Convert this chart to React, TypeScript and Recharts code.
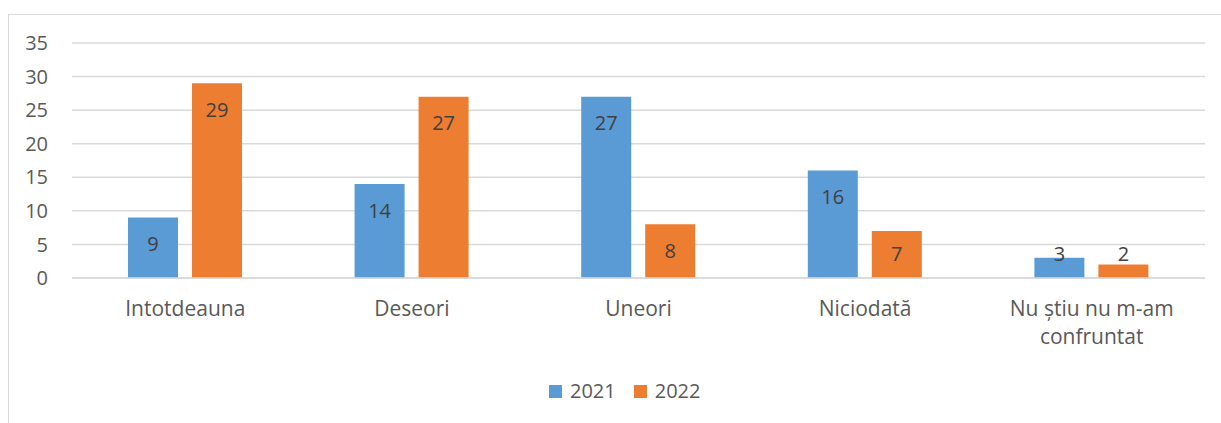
import React from "react";
import { BarChart, Bar, XAxis, YAxis, CartesianGrid, Legend, Text } from "recharts";

const categories = ["Intotdeauna", "Deseori", "Uneori", "Niciodată", "Nu știu nu m-am confruntat"];
const values2021 = [9, 14, 27, 16, 3];
const values2022 = [29, 27, 8, 7, 2];
const yTicks = [0, 5, 10, 15, 20, 25, 30, 35];
const seriesNames = ["2021", "2022"];
const colors = ["#5B9BD5", "#ED7D31"];

const data = categories.map((c, i) => ({ name: c, s2021: values2021[i], s2022: values2022[i] }));

const FONT = "'Open Sans', sans-serif";

const renderLabel = (props: any) => {
  const { x, y, width, height, value } = props;
  const base = y + height;
  const cy = Math.min(y + 26, base - 25);
  return (
    <text x={x + width / 2} y={cy} textAnchor="middle" dominantBaseline="central" fill="#404040" fontSize={20} fontFamily={FONT}>
      {value}
    </text>
  );
};

const XTick = (props: any) => {
  const { x, y, payload } = props;
  return (
    <Text
      x={x}
      y={y}
      width={200}
      textAnchor="middle"
      verticalAnchor="start"
      lineHeight={28}
      fill="#595959"
      style={{ fontSize: 21, fontFamily: FONT }}
    >
      {payload.value}
    </Text>
  );
};

const LegendContent = () => (
  <div style={{ display: "flex", alignItems: "center", fontFamily: FONT, fontSize: 20, color: "#595959", lineHeight: "28px" }}>
    {seriesNames.map((n, i) => (
      <div key={n} style={{ display: "flex", alignItems: "center", marginRight: i === 0 ? 18 : 0 }}>
        <span style={{ display: "inline-block", width: 13, height: 13, background: colors[i], marginRight: 8 }} />
        <span>{n}</span>
      </div>
    ))}
  </div>
);

export default function App() {
  return (
    <div style={{ position: "fixed", left: 8, top: 14, width: 1220, height: 420, border: "1px solid #D9D9D9", background: "#fff", boxSizing: "border-box" }}>
      <BarChart width={1212} height={408} data={data} margin={{ top: 28, right: 16, left: 0, bottom: 0 }} barCategoryGap={56} barGap={14}>
        <CartesianGrid vertical={false} stroke="#D9D9D9" strokeWidth={1.5} />
        <XAxis dataKey="name" height={145} tickLine={false} axisLine={{ stroke: "#D9D9D9", strokeWidth: 1.5 }} tickSize={0} tickMargin={23} tick={<XTick />} interval={0} />
        <YAxis width={63} domain={[0, 35]} ticks={yTicks} tickLine={false} axisLine={false} tickSize={0} tickMargin={24} tick={{ fill: "#595959", fontSize: 20, fontFamily: FONT }} interval={0} />
        <Legend verticalAlign="middle" align="center" content={<LegendContent />} wrapperStyle={{ top: 362, left: 540, width: "auto" }} />
        <Bar dataKey="s2021" name={seriesNames[0]} fill={colors[0]} isAnimationActive={false} label={renderLabel} />
        <Bar dataKey="s2022" name={seriesNames[1]} fill={colors[1]} isAnimationActive={false} label={renderLabel} />
      </BarChart>
    </div>
  );
}
